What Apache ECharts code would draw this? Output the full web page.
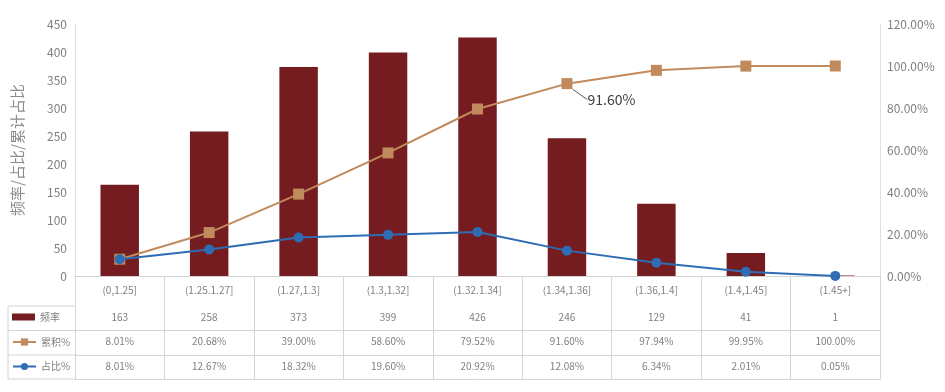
<!DOCTYPE html>
<html>
<head>
<meta charset="utf-8">
<script src="https://cdn.jsdelivr.net/npm/echarts@6/dist/echarts.min.js"></script>
<style>html,body{margin:0;padding:0;background:#fff}#c{width:945px;height:392px}</style>
</head>
<body>
<div id="c"></div>
<script>
const categories = ['(0,1.25]', '(1.25.1.27]', '(1.27,1.3]', '(1.3,1.32]', '(1.32.1.34]', '(1.34,1.36]', '(1.36,1.4]', '(1.4,1.45]', '(1.45+]'];
const frequency = [163, 258, 373, 399, 426, 246, 129, 41, 1];
const cumulative = [8.01, 20.68, 39.00, 58.60, 79.52, 91.60, 97.94, 99.95, 100.00];
const share = [8.01, 12.67, 18.32, 19.60, 20.92, 12.08, 6.34, 2.01, 0.05];
const leftTicks = {min: 0, max: 450, interval: 50};
const rightTicks = {min: 0, max: 120, interval: 20};
const annotatedIndex = 5;

const FONT = '"Noto Sans CJK SC", "Noto Sans", sans-serif';
const TXT = '#808080';
const GRIDC = '#d4d4d4';
const BAR = '#741C1F';
const CUM = '#C08A5C';
const PCT = '#2E6DB3';

const gl = {left: 75, right: 880, top: 24, bottom: 276, tableLeft: 8};
const rows = [306, 330.5, 355, 379];

const chart = echarts.init(document.getElementById('c'), null, {renderer: 'canvas'});

function rowAxis(offset, labels, showLabel) {
  return {
    type: 'category', gridIndex: 0, position: 'bottom', offset: offset,
    data: categories,
    axisLine: {show: true, lineStyle: {color: GRIDC, width: 1}},
    axisTick: {show: false},
    axisLabel: {show: showLabel, interval: 0, margin: 6, fontSize: 10, color: TXT, fontFamily: FONT,
      formatter: (v, i) => labels ? labels[i] : ''},
    splitLine: {show: false}
  };
}

const cumData = cumulative.map((v, i) => i === annotatedIndex ? {
  value: v,
  label: {show: true, position: 'right', distance: 5, formatter: v.toFixed(2) + '%', fontSize: 14, color: '#404040', fontFamily: FONT}
} : v);

const option = {
  animation: false,
  textStyle: {fontFamily: FONT},
  grid: {left: gl.left, right: 945 - gl.right, top: gl.top, bottom: 392 - gl.bottom, containLabel: false},
  legend: [
    {data: [{name: '频率', icon: 'rect'}], orient: 'vertical', left: 12, top: 312, padding: 0, itemWidth: 23, itemHeight: 7, itemGap: 5,
      textStyle: {fontSize: 10, color: TXT, fontFamily: FONT}, selectedMode: false},
    {data: ['累积%'], orient: 'vertical', left: 12, top: 337, padding: 0, itemWidth: 23, itemHeight: 9, itemGap: 5,
      textStyle: {fontSize: 10, color: TXT, fontFamily: FONT}, selectedMode: false},
    {data: ['占比%'], orient: 'vertical', left: 12, top: 361.5, padding: 0, itemWidth: 23, itemHeight: 9, itemGap: 5,
      textStyle: {fontSize: 10, color: TXT, fontFamily: FONT}, selectedMode: false}
  ],
  xAxis: [
    {
      type: 'category', data: categories, position: 'bottom',
      axisLine: {show: true, lineStyle: {color: '#bfbfbf', width: 1}},
      axisTick: {show: true, interval: 0, alignWithLabel: false, length: rows[3] - gl.bottom, lineStyle: {color: GRIDC}},
      axisLabel: {interval: 0, margin: 9, fontSize: 10, color: TXT, fontFamily: FONT},
      splitLine: {show: false}
    },
    rowAxis(rows[0] - gl.bottom, frequency.map(String), true),
    rowAxis(rows[1] - gl.bottom, cumulative.map(v => v.toFixed(2) + '%'), true),
    rowAxis(rows[2] - gl.bottom, share.map(v => v.toFixed(2) + '%'), true),
    rowAxis(rows[3] - gl.bottom, null, false)
  ],
  yAxis: [
    {
      type: 'value', min: leftTicks.min, max: leftTicks.max, interval: leftTicks.interval,
      name: '频率/占比/累计占比', nameLocation: 'middle', nameGap: 50, nameRotate: 90,
      nameTextStyle: {fontSize: 15, color: '#8c8c8c', fontFamily: FONT},
      axisLine: {show: true, lineStyle: {color: '#e0e0e0'}},
      axisTick: {show: false},
      axisLabel: {fontSize: 12, color: TXT, margin: 8, fontFamily: FONT},
      splitLine: {show: false}
    },
    {
      type: 'value', min: rightTicks.min, max: rightTicks.max, interval: rightTicks.interval, position: 'right',
      axisLine: {show: true, lineStyle: {color: '#e0e0e0'}},
      axisTick: {show: false},
      axisLabel: {fontSize: 12, color: TXT, margin: 7, fontFamily: FONT, formatter: v => v.toFixed(2) + '%'},
      splitLine: {show: false}
    }
  ],
  graphic: [
    {type: 'line', shape: {x1: gl.tableLeft, y1: rows[0], x2: gl.left, y2: rows[0]}, style: {stroke: GRIDC, lineWidth: 1}},
    {type: 'line', shape: {x1: gl.tableLeft, y1: rows[1], x2: gl.left, y2: rows[1]}, style: {stroke: GRIDC, lineWidth: 1}},
    {type: 'line', shape: {x1: gl.tableLeft, y1: rows[2], x2: gl.left, y2: rows[2]}, style: {stroke: GRIDC, lineWidth: 1}},
    {type: 'line', shape: {x1: gl.tableLeft, y1: rows[3], x2: gl.left, y2: rows[3]}, style: {stroke: GRIDC, lineWidth: 1}},
    {type: 'line', shape: {x1: gl.tableLeft, y1: rows[0], x2: gl.tableLeft, y2: rows[3]}, style: {stroke: GRIDC, lineWidth: 1}}
  ],
  series: [
    {name: '频率', type: 'bar', xAxisIndex: 0, yAxisIndex: 0, data: frequency, barWidth: '43%',
      itemStyle: {color: BAR}, z: 2},
    {name: '累积%', type: 'line', xAxisIndex: 0, yAxisIndex: 1, data: cumData, symbol: 'rect', symbolSize: 11,
      lineStyle: {color: CUM, width: 2}, itemStyle: {color: CUM}, z: 3,
      labelLayout: (p) => p.dataIndex === annotatedIndex ? {dx: 10, dy: 16} : {},
      labelLine: {show: true, lineStyle: {color: '#595959', width: 1}}},
    {name: '占比%', type: 'line', xAxisIndex: 0, yAxisIndex: 1, data: share, symbol: 'circle', symbolSize: 10,
      lineStyle: {color: PCT, width: 2}, itemStyle: {color: PCT}, z: 4}
  ]
};
chart.setOption(option);
</script>
</body>
</html>
